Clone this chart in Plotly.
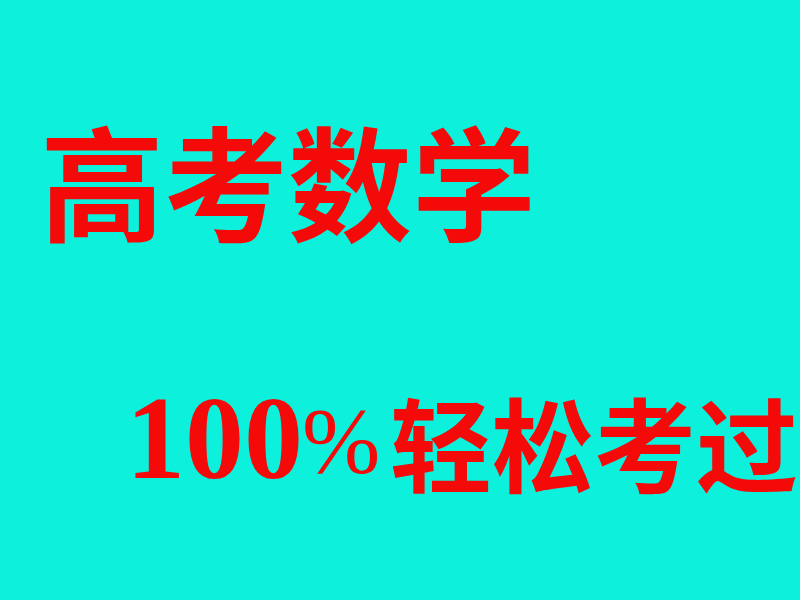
import plotly.graph_objects as go

# text lines of the poster
title_text = "高考数学"
slogan_num = "100"
slogan_pct = "%"
slogan_words = "轻松考过"

bg_color = "#0CF0DC"
text_color = "#F50A0A"

fig = go.Figure()

# big title
fig.add_annotation(
    text=title_text,
    x=38, y=178,
    xanchor="left", yanchor="middle",
    showarrow=False,
    font=dict(family="Noto Sans CJK SC", size=124, color=text_color, weight="bold"),
)
# "100"
fig.add_annotation(
    text=slogan_num,
    x=124, y=438,
    xanchor="left", yanchor="middle",
    showarrow=False,
    font=dict(family="Liberation Serif", size=118, color=text_color, weight="bold"),
)
# "%"
fig.add_annotation(
    text=slogan_pct,
    x=300, y=440,
    xanchor="left", yanchor="middle",
    showarrow=False,
    font=dict(family="Liberation Serif", size=94, color=text_color),
)
# "轻松考过"
fig.add_annotation(
    text=slogan_words,
    x=800, y=440,
    xanchor="right", yanchor="middle",
    showarrow=False,
    font=dict(family="Noto Sans CJK SC", size=102, color=text_color, weight="bold"),
)

fig.update_xaxes(range=[0, 800], visible=False)
fig.update_yaxes(range=[600, 0], visible=False)
fig.update_layout(
    width=800,
    height=600,
    margin=dict(l=0, r=0, t=0, b=0),
    paper_bgcolor=bg_color,
    plot_bgcolor=bg_color,
    showlegend=False,
)

fig.write_html(
    "out.html",
    config={"displayModeBar": False},
    post_script="document.body.style.margin='0';document.body.style.background='%s';" % bg_color,
)
